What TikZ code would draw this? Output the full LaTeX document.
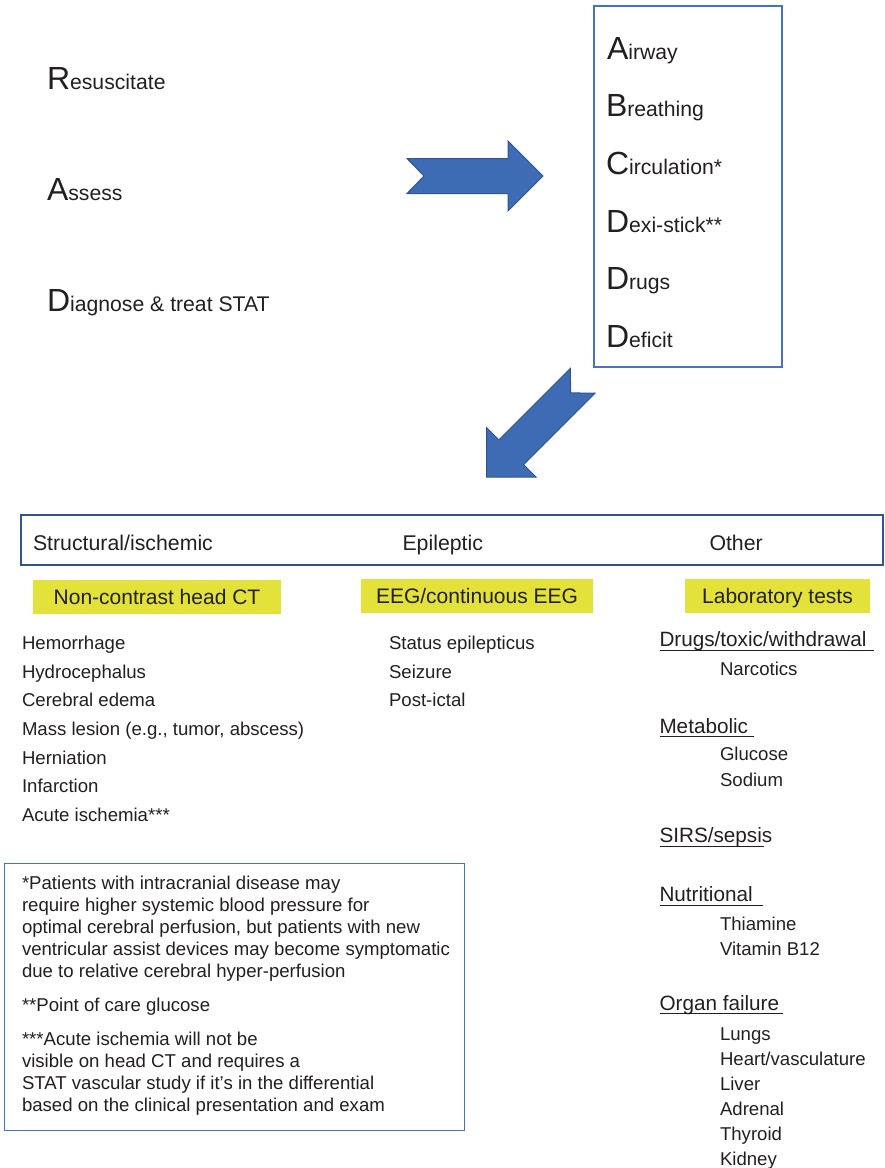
\documentclass[tikz,border=0pt]{standalone}
\usepackage{fontspec}
\setmainfont{Liberation Sans}
\definecolor{ink}{RGB}{35,31,32}
\definecolor{boxblue}{RGB}{68,114,196}
\definecolor{barblue}{RGB}{47,85,151}
\definecolor{arrowfill}{RGB}{61,108,180}
\definecolor{arrowline}{RGB}{46,84,150}
\definecolor{hilite}{RGB}{226,226,58}
\newcommand{\capL}[1]{{\fontsize{32}{32}\selectfont #1}}
\begin{document}
\begin{tikzpicture}[x=1pt,y=-1pt,
  every node/.style={inner sep=0pt, outer sep=0pt, text=ink},
  mnemo/.style={anchor=base west, font=\fontsize{21.2}{24}\selectfont},
  framebox/.style={draw=boxblue, line width=1.8pt, fill=white},
  barbox/.style={draw=barblue, line width=1.8pt},
  ybox/.style={fill=hilite, minimum height=34pt, text height=15pt, text depth=0pt,
               font=\fontsize{21}{24}\selectfont},
  hdrtext/.style={anchor=base west, font=\fontsize{21.3}{24}\selectfont},
  item/.style={anchor=base west, font=\fontsize{18.6}{22}\selectfont},
  cat/.style={anchor=base west, font=\fontsize{20.7}{24}\selectfont},
  uline/.style={draw=ink, line width=0.9pt},
  blockarrow/.style={fill=arrowfill, draw=arrowline, line width=1pt, line join=miter}
]
\useasboundingbox (0,0) rectangle (885,1168);

% RAD mnemonic
\node[mnemo] (resus) at (47,89) {\capL{R}esuscitate};
\node[mnemo] (assess) at (47,200) {\capL{A}ssess};
\node[mnemo] (diag) at (47,311.7) {\capL{D}iagnose \& treat STAT};

% ABCD box
\node[framebox, anchor=north west, minimum width=188pt, minimum height=361pt] (abc) at (594,6) {};
\node[mnemo] (air) at (607,59) {\capL{A}irway};
\node[mnemo] (bre) at (606,116.5) {\capL{B}reathing};
\node[mnemo] (cir) at (606,174) {\capL{C}irculation*};
\node[mnemo] (dex) at (606,232) {\capL{D}exi-stick**};
\node[mnemo] (dru) at (606,289) {\capL{D}rugs};
\node[mnemo] (def) at (606,347) {\capL{D}eficit};

% block arrows
\begin{scope}[shift={(543,176)}]
  \coordinate (rtip) at (0,0);
  \draw[blockarrow] (rtip) -- (-35,-35) -- (-35,-17.5) -- (-136,-17.5) -- (-119,0)
    -- (-136,17.5) -- (-35,17.5) -- (-35,35) -- cycle;
\end{scope}
\begin{scope}[shift={(486.5,477)}, rotate=225]
  \coordinate (dtip) at (0,0);
  \draw[blockarrow] (dtip) -- (-35,-35) -- (-35,-17.5) -- (-136,-17.5) -- (-119,0)
    -- (-136,17.5) -- (-35,17.5) -- (-35,35) -- cycle;
\end{scope}

% category bar
\node[barbox, anchor=north west, minimum width=862pt, minimum height=50pt] (bar) at (21,515) {};
\node[hdrtext] (hstruct) at (33,550) {Structural/ischemic};
\node[hdrtext] (hepi) at (402.5,550) {Epileptic};
\node[hdrtext] (hother) at (709.5,550) {Other};

% tests
\node[ybox, minimum width=248pt] (ct) at (157,596.5) {Non-contrast head CT};
\node[ybox, minimum width=232pt] (eeg) at (477,595.5) {EEG/continuous EEG};
\node[ybox, minimum width=185pt] (lab) at (777.5,595.5) {Laboratory tests};

% structural findings
\foreach \t [count=\i] in {Hemorrhage, Hydrocephalus, Cerebral edema,
    {Mass lesion (e.g., tumor, abscess)}, Herniation, Infarction, Acute ischemia***}
  \node[item] (sc\i) at (22,{649.3+28.7*(\i-1)}) {\t};

% epileptic findings
\foreach \t [count=\i] in {Status epilepticus, Seizure, Post-ictal}
  \node[item] (ep\i) at (389,{649.3+28.7*(\i-1)}) {\t};

% other causes
\node[cat] (drug) at (659.5,646.7) {Drugs/toxic/withdrawal};
\draw[uline] ([yshift=-3.4pt]drug.base west) -- ++(214.5,0);
\node[item] (narc) at (720,675) {Narcotics};

\node[cat] (meta) at (659.5,733.3) {Metabolic};
\draw[uline] ([yshift=-3.4pt]meta.base west) -- ++(94.5,0);
\node[item] (gluc) at (720,760.5) {Glucose};
\node[item] (sod) at (720,786.7) {Sodium};

\node[cat] (sirs) at (659.5,842.7) {SIRS/sepsis};
\draw[uline] ([yshift=-3.4pt]sirs.base west) -- ++(104.5,0);

\node[cat] (nutr) at (659.5,901.7) {Nutritional};
\draw[uline] ([yshift=-3.4pt]nutr.base west) -- ++(103,0);
\node[item] (thia) at (720,930) {Thiamine};
\node[item] (vitb) at (720,955) {Vitamin B12};

\node[cat] (organ) at (659.5,1010) {Organ failure};
\draw[uline] ([yshift=-3.4pt]organ.base west) -- ++(123.5,0);
\foreach \t [count=\i] in {Lungs, Heart/vasculature, Liver, Adrenal, Thyroid, Kidney}
  \node[item] (org\i) at (720,{1040+25*(\i-1)}) {\t};

% footnotes
\node[framebox, anchor=north west, minimum width=460pt, minimum height=267pt] (notes) at (4.5,863.5) {};
\node[anchor=north west, align=left, font=\fontsize{18.6}{22}\selectfont] (notetext) at (22,875.8)
  {*Patients with intracranial disease may\\
   require higher systemic blood pressure for\\
   optimal cerebral perfusion, but patients with new\\
   ventricular assist devices may become symptomatic\\
   due to relative cerebral hyper-perfusion\\[12.5pt]
   **Point of care glucose\\[12pt]
   ***Acute ischemia will not be\\
   visible on head CT and requires a\\
   STAT vascular study if it’s in the differential\\
   based on the clinical presentation and exam};
\end{tikzpicture}
\end{document}
